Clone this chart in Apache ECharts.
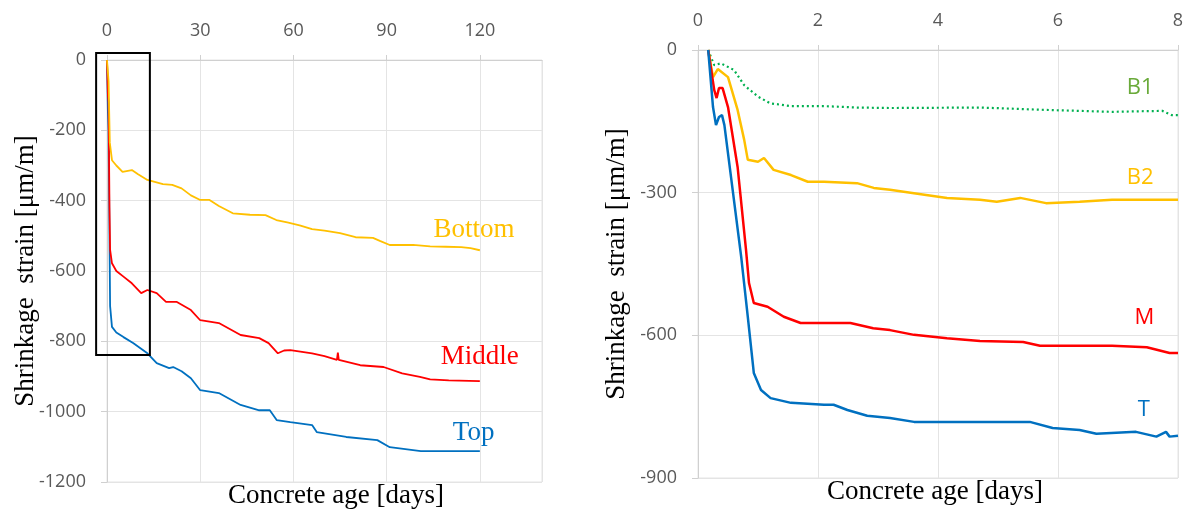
<!DOCTYPE html>
<html>
<head>
<meta charset="utf-8">
<script src="https://cdn.jsdelivr.net/npm/echarts@6/dist/echarts.min.js"></script>
<style>
  html, body { margin: 0; background: #fff; }
  #chart { width: 1187px; height: 511px; }
</style>
</head>
<body>
<div id="chart"></div>
<script>
// left panel: 0-120 days  [day, strain]
const bottom120 = [[0,0],[0.5,-60],[0.9,-235],[1.6,-285],[3,-300],[5,-318],[8,-313],[10,-325],[13,-341],[18,-353],[21,-355],[24,-365],[27,-385],[30,-398],[33,-398],[36,-415],[40.5,-436],[46,-440],[51,-441],[54.5,-455],[58,-462],[62,-470],[66,-481],[70,-485],[75,-492],[80,-504],[85.6,-506],[88,-515],[91,-526],[98.5,-526],[104,-530],[109,-531],[114,-532],[117,-535],[120,-541]];
const middle120 = [[0,0],[0.3,-100],[0.5,-120],[0.8,-420],[1,-540],[1.6,-578],[3,-600],[5.3,-616],[8,-635],[11,-663],[13,-654],[16,-663],[19,-688],[22.5,-688],[27,-711],[30,-740],[36,-748],[43,-782],[49,-791],[52,-805],[55,-834],[57,-826],[59,-825],[66,-834],[70,-842],[74,-853],[74.3,-832],[74.6,-853],[81.5,-868],[89,-873],[95,-891],[100.7,-901],[104,-908],[110,-911],[120,-913]];
const top120 = [[0,0],[0.3,-150],[0.5,-200],[0.75,-450],[1,-700],[1.6,-759],[3,-775],[5.3,-788],[8.4,-805],[13,-834],[16,-862],[20,-876],[21.3,-873],[24,-885],[27,-905],[30,-939],[36,-947],[43,-981],[49,-996],[52.4,-996],[54.6,-1024],[59,-1030],[66,-1038],[67.5,-1058],[77,-1072],[87,-1081],[91,-1101],[101,-1112],[120,-1112]];

// right panel: 0-8 days
const b1 = [[0.17,0],[0.27,-32],[0.38,-28],[0.6,-42],[0.77,-74],[1.0,-98],[1.2,-112],[1.55,-118],[2.1,-118],[2.65,-121],[3.2,-122],[4.7,-121],[5.8,-126],[6.9,-130],[7.74,-128],[7.9,-137],[8,-137]];
const b2 = [[0.17,0],[0.25,-57],[0.33,-40],[0.5,-57],[0.66,-126],[0.77,-189],[0.83,-231],[1.0,-235],[1.1,-227],[1.26,-252],[1.55,-263],[1.83,-277],[2.1,-277],[2.65,-280],[2.93,-290],[3.2,-294],[3.6,-301],[4.15,-311],[4.7,-315],[4.98,-319],[5.37,-311],[5.8,-322],[6.36,-319],[6.9,-315],[7.48,-315],[8,-315]];
const m = [[0.17,0],[0.27,-84],[0.31,-101],[0.35,-80],[0.41,-80],[0.5,-120],[0.66,-246],[0.8,-420],[0.85,-490],[0.93,-532],[1.16,-540],[1.43,-561],[1.71,-574],[2.1,-574],[2.54,-574],[2.92,-585],[3.2,-589],[3.6,-599],[4.15,-606],[4.7,-612],[5.42,-614],[5.7,-622],[6.9,-622],[7.48,-625],[7.86,-637],[8,-637]];
const t = [[0.17,0],[0.25,-120],[0.3,-158],[0.35,-141],[0.4,-137],[0.44,-158],[0.72,-435],[0.83,-561],[0.93,-679],[1.05,-715],[1.21,-732],[1.55,-742],[2.1,-746],[2.26,-746],[2.49,-757],[2.82,-769],[3.2,-774],[3.6,-782],[4.15,-782],[5.53,-782],[5.91,-795],[6.36,-799],[6.64,-807],[7.3,-803],[7.64,-813],[7.8,-803],[7.86,-813],[8,-811]];

const GOLD = '#FFC000', RED = '#FF0000', BLUE = '#0070C0', GREEN = '#00B050';
const SANS = '"Open Sans", sans-serif';
const SERIF = '"Liberation Serif", "Times New Roman", serif';

const chart = echarts.init(document.getElementById('chart'));

function xAx(grid, max, interval, hideMax) {
  return {
    type: 'value', gridIndex: grid, position: 'top', min: 0, max: max, interval: interval,
    axisLine: { show: true, lineStyle: { color: '#d0d0d0', width: 1 } },
    axisTick: { show: true, inside: false, length: 5, lineStyle: { color: '#d0d0d0' } },
    axisLabel: { margin: 20, color: '#595959', fontFamily: SANS, fontSize: 18, showMaxLabel: !hideMax },
    splitLine: { show: true, lineStyle: { color: '#e4e4e4' } }
  };
}
function yAx(grid, min, interval) {
  return {
    type: 'value', gridIndex: grid, min: min, max: 0, interval: interval,
    axisLine: { show: true, lineStyle: { color: '#d0d0d0', width: 1 } },
    axisTick: { show: true, inside: false, length: 6, lineStyle: { color: '#d0d0d0' } },
    axisLabel: { margin: 21, color: '#595959', fontFamily: SANS, fontSize: 18, formatter: v => String(v) },
    splitLine: { show: true, lineStyle: { color: '#e4e4e4' } }
  };
}
function line(name, data, color, axis, width, type) {
  return {
    name: name, type: 'line', data: data, xAxisIndex: axis, yAxisIndex: axis,
    showSymbol: false, symbol: 'none', animation: false,
    lineStyle: { color: color, width: width, type: type || 'solid' }
  };
}

chart.setOption({
  backgroundColor: '#fff',
  animation: false,
  grid: [
    { left: 107, top: 60, width: 435, height: 422, show: true, borderColor: '#e4e4e4', borderWidth: 1 },
    { left: 698, top: 50, width: 480, height: 428, show: true, borderColor: '#e4e4e4', borderWidth: 1 }
  ],
  xAxis: [xAx(0, 140, 30, true), xAx(1, 8, 2, false)],
  yAxis: [yAx(0, -1200, 200), yAx(1, -900, 300)],
  series: [
    line('Top', top120, BLUE, 0, 1.8),
    line('Middle', middle120, RED, 0, 1.8),
    line('Bottom', bottom120, GOLD, 0, 1.8),
    line('B1', b1, GREEN, 1, 2.2, [2, 3]),
    line('B2', b2, GOLD, 1, 2.5),
    line('M', m, RED, 1, 2.5),
    line('T', t, BLUE, 1, 2.5)
  ]
});

// series labels, placed in data coordinates
const labels = [
  { g: 0, at: [118.1, -484], text: 'Bottom', color: GOLD, font: '27px ' + SERIF },
  { g: 0, at: [120, -845], text: 'Middle', color: RED, font: '27px ' + SERIF },
  { g: 0, at: [118, -1061], text: 'Top', color: BLUE, font: '27px ' + SERIF },
  { g: 1, at: [7.37, -80], text: 'B1', color: '#6aaa3a', font: '22px ' + SANS },
  { g: 1, at: [7.37, -269], text: 'B2', color: GOLD, font: '22px ' + SANS },
  { g: 1, at: [7.44, -563], text: 'M', color: RED, font: '22px ' + SANS },
  { g: 1, at: [7.43, -757], text: 'T', color: BLUE, font: '22px ' + SANS }
];

const graphic = labels.map(function (l) {
  const p = chart.convertToPixel({ gridIndex: l.g }, l.at);
  return { type: 'text', x: p[0], y: p[1], style: { text: l.text, fill: l.color, font: l.font, align: 'center', verticalAlign: 'middle' } };
});

// zoom box around the first two weeks
const c1 = chart.convertToPixel({ gridIndex: 0 }, [-3.5, 20]);
const c2 = chart.convertToPixel({ gridIndex: 0 }, [13.8, -839]);
graphic.push({
  type: 'rect', z: 100,
  shape: { x: c1[0], y: c1[1], width: c2[0] - c1[0], height: c2[1] - c1[1] },
  style: { fill: 'none', stroke: '#000', lineWidth: 2 }
});

// axis titles
const yTitle = 'Shrinkage  strain [\u03bcm/m]';
graphic.push(
  { type: 'text', x: 26, y: 271, rotation: Math.PI / 2, style: { text: yTitle, fill: '#000', font: '27px ' + SERIF, align: 'center', verticalAlign: 'middle' } },
  { type: 'text', x: 617, y: 264, rotation: Math.PI / 2, style: { text: yTitle, fill: '#000', font: '27px ' + SERIF, align: 'center', verticalAlign: 'middle' } },
  { type: 'text', x: 336, y: 496, style: { text: 'Concrete age [days]', fill: '#000', font: '27px ' + SERIF, align: 'center', verticalAlign: 'middle' } },
  { type: 'text', x: 935, y: 492, style: { text: 'Concrete age [days]', fill: '#000', font: '27px ' + SERIF, align: 'center', verticalAlign: 'middle' } }
);

chart.setOption({ graphic: graphic });
</script>
</body>
</html>
